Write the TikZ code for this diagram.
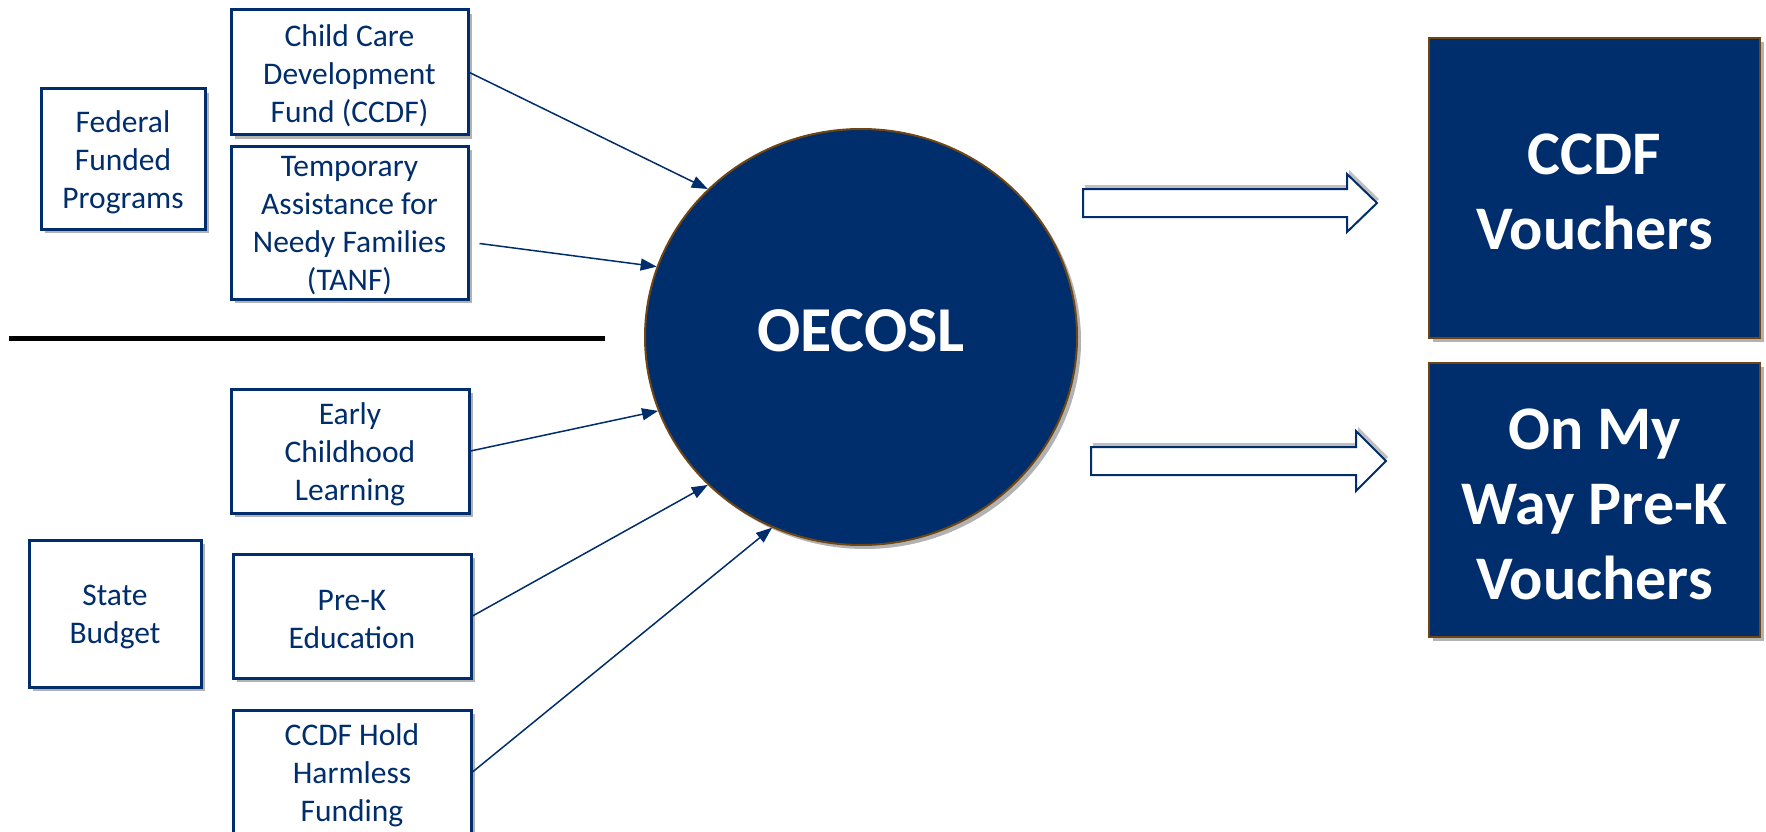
\documentclass[tikz,border=0pt]{standalone}
\usepackage{fontspec}
\setmainfont{Carlito}
\usetikzlibrary{shapes.geometric,arrows.meta,shadows}
\definecolor{navy}{RGB}{0,45,107}
\definecolor{brownedge}{RGB}{110,70,20}
\begin{document}
\begin{tikzpicture}[x=1pt,y=-1pt,
  srcbox/.style={draw=navy, line width=3pt, fill=white, inner sep=0pt,
    drop shadow={shadow xshift=4pt, shadow yshift=-4pt, opacity=0.3, fill=black}},
  srctext/.style={text=navy, align=center, font=\fontsize{31.5}{38}\selectfont,
    inner sep=0pt, yshift=-3.5pt},
  outbox/.style={draw=brownedge, line width=2pt, fill=navy, inner sep=0pt,
    drop shadow={shadow xshift=4pt, shadow yshift=-4pt, opacity=0.3, fill=black}},
  outtext/.style={text=white, align=center, font=\bfseries\fontsize{62}{75}\selectfont,
    inner sep=0pt, yshift=-4pt},
  feed/.style={draw=navy, line width=1.5pt, -{Triangle[length=16pt,width=12pt]}},
  blockarr/.style={draw=navy, line width=2pt, fill=white,
    drop shadow={shadow xshift=2pt, shadow yshift=4pt, opacity=0.25, fill=black}}]
\useasboundingbox (0,0) rectangle (1766,832);
\clip (0,0) rectangle (1766,832);

% left boxes
\node[srcbox, minimum width=164pt, minimum height=140pt,
  label={[srctext]center:{Federal\\Funded\\Programs}}] (federal) at (123,159) {};
\node[srcbox, minimum width=237pt, minimum height=125pt,
  label={[srctext]center:{Child Care\\Development\\Fund (CCDF)}}] (ccdf) at (349.5,72.5) {};
\node[srcbox, minimum width=237pt, minimum height=153pt,
  label={[srctext]center:{Temporary\\Assistance for\\Needy Families\\(TANF)}}] (tanf) at (349.5,222.5) {};
\node[srcbox, minimum width=238pt, minimum height=124pt,
  label={[srctext]center:{Early\\Childhood\\Learning}}] (early) at (350,451) {};
\node[srcbox, minimum width=172pt, minimum height=147pt,
  label={[srctext]center:{State\\Budget}}] (state) at (115,613.5) {};
\node[srcbox, minimum width=238pt, minimum height=124pt,
  label={[srctext]center:{Pre-K\\Education}}] (prek) at (352,616) {};
\node[srcbox, minimum width=238pt, minimum height=124pt,
  label={[srctext]center:{CCDF Hold\\Harmless\\Funding}}] (hold) at (352,772) {};

% divider
\draw[line width=5pt, black] (9,338) -- (605,338);

% central circle
\node[ellipse, draw=brownedge, line width=2pt, fill=navy, text=white,
  minimum width=432pt, minimum height=416pt, inner sep=0pt,
  font=\bfseries\fontsize{64}{75}\selectfont, text depth=12pt,
  drop shadow={shadow xshift=4pt, shadow yshift=-4pt, opacity=0.3, fill=black}] (oecosl) at (861,337) {OECOSL};

% feeding arrows
\draw[feed] (ccdf.east) -- (oecosl.136);
\draw[feed] ([shift={(10,21)}]tanf.east) -- (oecosl.161);
\draw[feed] (early.east) -- (oecosl.200);
\draw[feed] (prek.east) -- (oecosl.224);
\draw[feed] (hold.east) -- (oecosl.245);

% output boxes
\node[outbox, minimum width=331pt, minimum height=300pt,
  label={[outtext]center:{CCDF\\Vouchers}}] (ccdfv) at (1594.5,188) {};
\node[outbox, minimum width=331pt, minimum height=274pt,
  label={[outtext]center:{On My\\Way Pre-K\\Vouchers}}] (omw) at (1594.5,500) {};

% hollow block arrows
\draw[blockarr] (1083,189) -- (1347,189) -- (1347,174) -- (1377,203) -- (1347,232) -- (1347,217) -- (1083,217) -- cycle;
\draw[blockarr] (1091,447) -- (1356,447) -- (1356,431) -- (1386,461) -- (1356,491) -- (1356,475) -- (1091,475) -- cycle;
\end{tikzpicture}
\end{document}
